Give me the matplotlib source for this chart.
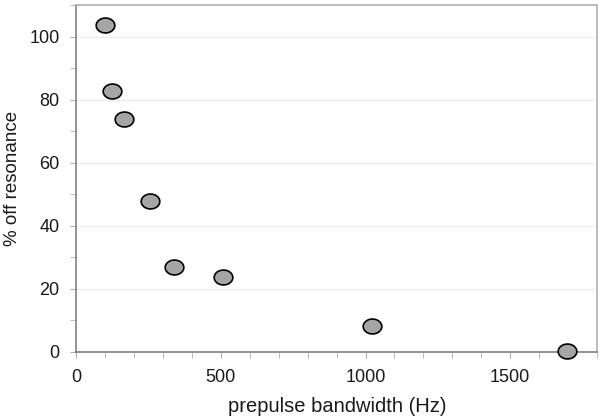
import matplotlib
matplotlib.use("Agg")
import matplotlib.pyplot as plt
import numpy as np
from matplotlib.path import Path
from matplotlib.ticker import MultipleLocator

plt.rcParams['font.family'] = ['Liberation Sans', 'DejaVu Sans']

# data
bandwidth_hz = [100, 124, 165, 255, 338, 507, 1021, 1697]
off_resonance_pct = [103.8, 82.6, 74.0, 47.8, 26.9, 23.7, 8.2, 0.3]

# slightly flattened ellipse marker
t = np.linspace(0, 2 * np.pi, 60)
ellipse = Path(np.column_stack([np.cos(t), 0.8 * np.sin(t)]), closed=True)

fig = plt.figure(figsize=(6, 4.18), dpi=100)
ax = fig.add_axes([0.127, 0.158, 0.868, 0.830])

ax.set_axisbelow(True)
ax.grid(True, axis='y', color='#ececec', linewidth=0.8)
ax.scatter(bandwidth_hz, off_resonance_pct, marker=ellipse, s=180,
           facecolor='#a6a6a6', edgecolor='black', linewidth=1.2, zorder=3,
           clip_on=False)

ax.set_xlim(0, 1800)
ax.set_ylim(0, 110)
ax.set_xticks([0, 500, 1000, 1500])
ax.xaxis.set_minor_locator(MultipleLocator(100))
ax.yaxis.set_major_locator(MultipleLocator(20))
ax.yaxis.set_minor_locator(MultipleLocator(10))

for side in ['left', 'bottom']:
    ax.spines[side].set_color('#808080')
    ax.spines[side].set_linewidth(1.2)
for side in ['top', 'right']:
    ax.spines[side].set_color('#b0b0b0')
    ax.spines[side].set_linewidth(1.2)

ax.tick_params(which='both', direction='out', color='#b0b0b0', labelsize=13,
               labelcolor='#1a1a1a')
ax.tick_params(which='major', length=4, pad=8)
ax.tick_params(which='minor', length=4)

ax.set_xlabel('prepulse bandwidth (Hz)', fontsize=14.5, color='#1a1a1a')
ax.set_ylabel('% off resonance', fontsize=13.5, color='#1a1a1a')
# place the axis labels where the reference has them
ax.xaxis.set_label_coords((337 - 76) / 521, -(407 - 352) / 347)
ax.yaxis.set_label_coords(-(76 - 12) / 521, 0.5)
ax.xaxis.label.set_va('center')
ax.yaxis.label.set_va('center')

fig.savefig('out.png', dpi=100)
